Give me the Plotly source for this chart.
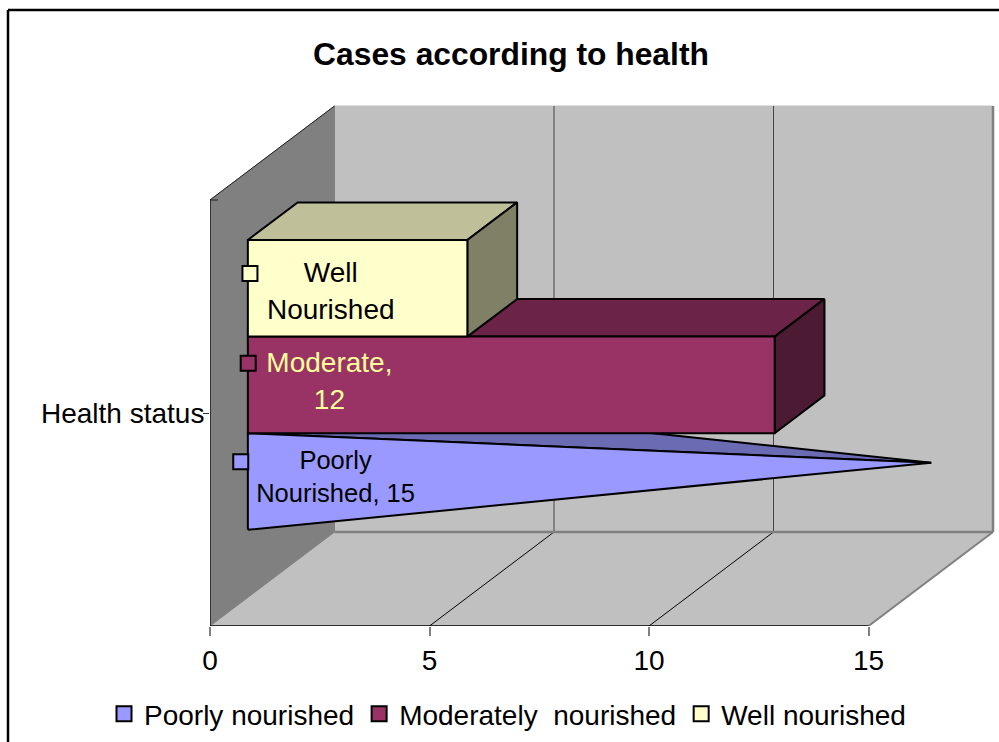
import plotly.graph_objects as go

# ---- data ----
series_names = ["Poorly nourished", "Moderately\u00a0 nourished", "Well nourished"]
series_values = [15, 12, 5]
category = ["Health status"]
value_ticks = [0, 5, 10, 15]
data_labels = ["Poorly<br>Nourished, 15", "Moderate,<br>12", "Well<br>Nourished"]

# ---- styles ----
front_colors = ["#9999FF", "#993366", "#FFFFCC"]
top_colors = ["#6B6BB3", "#6B2447", "#BFBF99"]
side_colors = ["#6B6BB3", "#4D1A33", "#808066"]
label_colors = ["#000000", "#FFFF99", "#000000"]
label_sizes = [25.5, 28, 28]
FONT = "Liberation Sans, Arial, sans-serif"

# ---- layout geometry of the oblique 3D projection ----
W, H = 999, 742
L, B, T = 210, 116, 100
PX_X = 43.9         # pixels per value unit
PX_Y = 96.6         # pixels per bar thickness
DEPTH_X = 124.5 / PX_X
DEPTH_Y = 94 / PX_Y
X_MAX = (W - L) / PX_X
Y_MAX = (H - B - T) / PX_Y
AX_MAX = 15
WALL_H = 426 / PX_Y
GAP = 0.70          # space under the first bar
BAR_D0, BAR_D = 0.304, 0.40


def pr(v, h, d):
    return v + d * DEPTH_X, h + d * DEPTH_Y


def poly(points, fill, line="#000000", width=2):
    xs, ys = zip(*[pr(*p) for p in points])
    return go.Scatter(x=list(xs) + [xs[0]], y=list(ys) + [ys[0]], mode="lines", fill="toself",
                      fillcolor=fill, line=dict(color=line, width=width), hoverinfo="skip",
                      showlegend=False, cliponaxis=False)


def seg(p, q, color, width):
    a, b = pr(*p), pr(*q)
    return go.Scatter(x=[a[0], b[0]], y=[a[1], b[1]], mode="lines",
                      line=dict(color=color, width=width), hoverinfo="skip",
                      showlegend=False, cliponaxis=False)


fig = go.Figure()

# walls and floor
fig.add_trace(poly([(0, 0, 1), (AX_MAX, 0, 1), (AX_MAX, WALL_H, 1), (0, WALL_H, 1)], "#C0C0C0", "#C0C0C0", 1))
fig.add_trace(poly([(0, 0, 0), (AX_MAX, 0, 0), (AX_MAX, 0, 1), (0, 0, 1)], "#C0C0C0", "#C0C0C0", 1))
for t in value_ticks[1:-1]:
    fig.add_trace(seg((t, 0, 1), (t, WALL_H, 1), "#444444", 1))
    fig.add_trace(seg((t, 0, 0), (t, 0, 1), "#000000", 1))
fig.add_trace(seg((0, 0, 1), (AX_MAX, 0, 1), "#808080", 2.5))
fig.add_trace(seg((AX_MAX, 0, 1), (AX_MAX, WALL_H, 1), "#808080", 2.5))
fig.add_trace(seg((AX_MAX, 0, 0), (AX_MAX, 0, 1), "#808080", 2))
fig.add_trace(poly([(0, 0, 0), (0, WALL_H, 0), (0, WALL_H, 1), (0, 0, 1)], "#808080", "#808080", 1))
fig.add_trace(seg((0, WALL_H, 0), (0, WALL_H, 1), "#222222", 1))
fig.add_trace(seg((0, 0, 0), (0, WALL_H, 0), "#333333", 2))
fig.add_trace(seg((0, 0, 0), (AX_MAX, 0, 0), "#000000", 1.5))
fig.add_trace(seg((0, WALL_H, 0), (0.18, WALL_H, 0), "#222222", 1))

# series marks
for i, v in enumerate(series_values):
    h0, h1 = GAP + i, GAP + i + 1
    d0, d1 = BAR_D0, BAR_D0 + BAR_D
    if i == 0:  # pyramid drawn to a point at the mid-depth of its base
        tip = (v, (h0 + h1) / 2, (d0 + d1) / 2)
        fig.add_trace(poly([(0, h1, d0), (0, h1, d1), tip], top_colors[i]))
        fig.add_trace(poly([(0, h0, d0), (0, h1, d0), tip], front_colors[i]))
    else:
        fig.add_trace(poly([(0, h1, d0), (0, h1, d1), (v, h1, d1), (v, h1, d0)], top_colors[i]))
        fig.add_trace(poly([(v, h0, d0), (v, h1, d0), (v, h1, d1), (v, h0, d1)], side_colors[i]))
        fig.add_trace(poly([(0, h0, d0), (0, h1, d0), (v, h1, d0), (v, h0, d0)], front_colors[i]))

# data labels (placed inside each bar's front face)
label_x = [2.86, 2.72, 2.75]
label_y = [1.52, 2.51, 3.44]
for i, s in enumerate(data_labels):
    fig.add_trace(go.Scatter(x=[label_x[i]], y=[label_y[i]], mode="text", text=[s],
                             textposition="middle center", cliponaxis=False, hoverinfo="skip",
                             textfont=dict(family=FONT, size=label_sizes[i], color=label_colors[i]),
                             showlegend=False))

# legend-key markers beside the labels (these also provide the legend entries)
key_x = [0.70, 0.87, 0.91]
key_y = [1.70, 2.72, 3.65]
for i, name in enumerate(series_names):
    fig.add_trace(go.Scatter(x=[key_x[i]], y=[key_y[i]], mode="markers", name=name, cliponaxis=False,
                             hoverinfo="skip",
                             marker=dict(symbol="square", size=15, color=front_colors[i],
                                         line=dict(color="#000000", width=2))))

PW, PH = W - L, H - B - T


def px(x):
    return (x - L) / PW


def py(y):
    return (H - B - y) / PH


fig.update_layout(
    width=W, height=H, autosize=False,
    margin=dict(l=L, r=0, t=T, b=B, pad=0),
    paper_bgcolor="#FFFFFF", plot_bgcolor="rgba(0,0,0,0)",
    font=dict(family=FONT, size=28, color="#000000"),
    title=dict(text="<b>Cases according to health</b>", font=dict(family=FONT, size=31.8, color="#000000"),
               x=(313 + 709) / 2 / W, xanchor="center", y=1 - 54 / H, yanchor="middle"),
    xaxis=dict(range=[0, X_MAX], tickmode="array", tickvals=value_ticks, ticktext=[str(t) for t in value_ticks],
               ticks="outside", ticklen=9, tickcolor="#808080", tickwidth=1.5, showgrid=False, zeroline=False,
               showline=False, tickfont=dict(family=FONT, size=28), fixedrange=True, automargin=False),
    yaxis=dict(range=[0, Y_MAX], tickmode="array", tickvals=[WALL_H / 2], ticktext=category,
               ticks="outside", ticklen=6, tickcolor="#333333", tickwidth=1, showgrid=False, zeroline=False,
               showline=False, tickfont=dict(family=FONT, size=28), ticklabelstandoff=-7,
               fixedrange=True, automargin=False),
    legend=dict(orientation="h", x=px(104), xanchor="left", y=py(714), yanchor="middle",
                font=dict(family=FONT, size=28), bgcolor="rgba(0,0,0,0)", itemsizing="trace",
                traceorder="normal"),
    shapes=[
        dict(type="line", xref="paper", yref="paper", x0=px(8), x1=px(8), y0=py(10), y1=py(742),
             line=dict(color="#000000", width=2.5)),
        dict(type="line", xref="paper", yref="paper", x0=px(8), x1=px(999), y0=py(10), y1=py(10),
             line=dict(color="#000000", width=2.5)),
    ],
)

fig.write_html("out.html", post_script="document.body.style.margin='0';", config={"displayModeBar": False})
